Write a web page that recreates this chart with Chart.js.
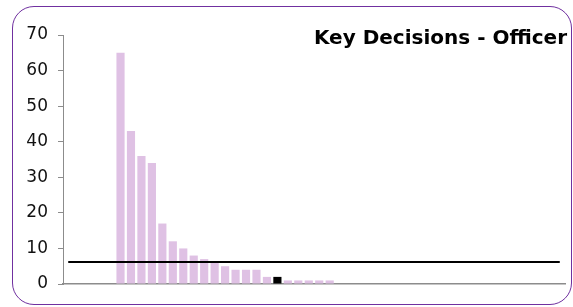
<!DOCTYPE html>
<html>
<head>
<meta charset="utf-8">
<script src="https://cdn.jsdelivr.net/npm/chart.js@4/dist/chart.umd.min.js"></script>
<style>
  html, body { margin: 0; padding: 0; background: #ffffff; }
  #wrap { position: relative; width: 573px; height: 307px; }
  #frame { position: absolute; left: 12px; top: 6px; width: 560px; height: 299px;
           border: 1.5px solid #7030A0; border-radius: 22px; box-sizing: border-box; }
  canvas { position: absolute; left: 0; top: 0; }
</style>
</head>
<body>
<div id="wrap">
  <div id="frame"></div>
  <canvas id="c" width="573" height="307"></canvas>
</div>
<script>
// ---- data ----
const chartTitle = "Key Decisions - Officer";
const categories = ["","","","","","","","","","","","","","","","","","","","","","","","",
                    "","","","","","","","","","","","","","","","","","","","","","","",""];
const decisionCounts = [null,null,null,null,null,
  65,43,36,34,17,12,10,8,7,6,5,4,4,4,2,2,1,1,1,1,1,
  null,null,null,null,null,null,null,null,null,null,null,
  null,null,null,null,null,null,null,null,null,null,null];
const highlightIndex = 20;
const averageLine = [6.2,6.2,6.2,6.2,6.2,6.2,6.2,6.2,6.2,6.2,6.2,6.2,6.2,6.2,6.2,6.2,
                     6.2,6.2,6.2,6.2,6.2,6.2,6.2,6.2,6.2,6.2,6.2,6.2,6.2,6.2,6.2,6.2,
                     6.2,6.2,6.2,6.2,6.2,6.2,6.2,6.2,6.2,6.2,6.2,6.2,6.2,6.2,6.2,6.2];
const yTicks = [0,10,20,30,40,50,60,70];

const barColors = decisionCounts.map((v, i) => i === highlightIndex ? "#000000" : "#DFC1E4");

const titlePlugin = {
  id: "cornerTitle",
  afterDraw(chart) {
    const ctx = chart.ctx;
    ctx.save();
    ctx.font = "bold 20px 'DejaVu Sans', Verdana, sans-serif";
    ctx.fillStyle = "#000000";
    ctx.textAlign = "right";
    ctx.textBaseline = "alphabetic";
    ctx.fillText(chartTitle, 567, 44);
    ctx.restore();
  }
};

new Chart(document.getElementById("c"), {
  data: {
    labels: categories,
    datasets: [
      {
        type: "line",
        data: averageLine,
        borderColor: "#000000",
        borderWidth: 2,
        pointRadius: 0,
        tension: 0,
        order: 0
      },
      {
        type: "bar",
        data: decisionCounts,
        backgroundColor: barColors,
        borderWidth: 0,
        barPercentage: 0.78,
        categoryPercentage: 1.0,
        order: 1
      }
    ]
  },
  options: {
    responsive: false,
    animation: false,
    devicePixelRatio: 1,
    layout: { padding: { left: 0, right: 8, top: 35, bottom: 23 } },
    plugins: { legend: { display: false }, tooltip: { enabled: false }, title: { display: false } },
    scales: {
      x: {
        type: "category",
        offset: true,
        grid: { display: false, drawTicks: false },
        border: { display: true, color: "#8c8c8c", width: 1.5 },
        ticks: { display: false }
      },
      y: {
        min: 0, max: 70,
        afterFit(scale) { scale.width = 63; },
        afterBuildTicks(scale) { scale.ticks = yTicks.map(v => ({ value: v })); },
        grid: { drawOnChartArea: false, drawTicks: true, tickLength: 5, tickColor: "#8c8c8c" },
        border: { display: true, color: "#8c8c8c", width: 1 },
        ticks: {
          padding: 10,
          color: "#111111",
          font: { family: "'DejaVu Sans', Verdana, sans-serif", size: 17 }
        }
      }
    }
  },
  plugins: [titlePlugin]
});
</script>
</body>
</html>
